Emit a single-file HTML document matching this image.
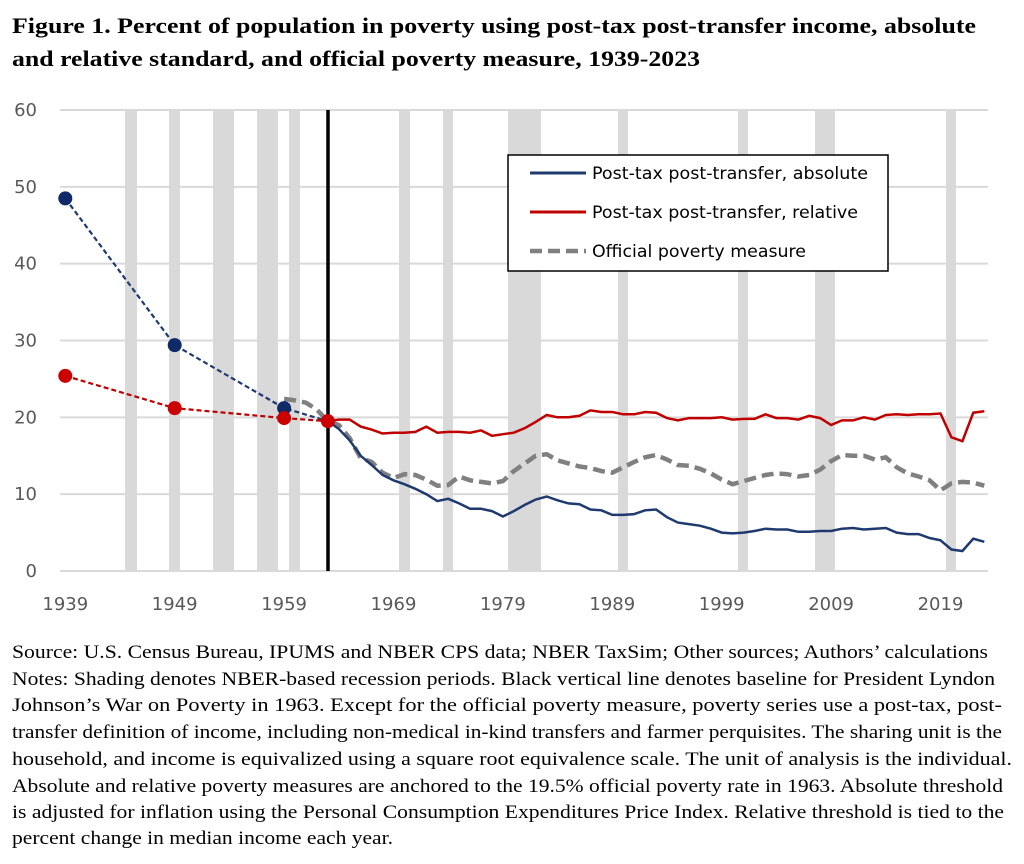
<!DOCTYPE html>
<html><head><meta charset="utf-8"><style>
html,body{margin:0;padding:0;background:#fff;width:1024px;height:864px;overflow:hidden}
svg{display:block}
.t{font-family:"Liberation Serif",serif;font-weight:bold;font-size:22px;fill:#000}
.n{font-family:"Liberation Serif",serif;font-size:19px;fill:#000}
.ax{font-family:"DejaVu Sans","Liberation Sans",sans-serif;font-size:18px;fill:#595959}
.lg{font-family:"DejaVu Sans","Liberation Sans",sans-serif;font-size:17px;fill:#000}
</style></head><body>
<svg id="s" width="1024" height="864" xmlns="http://www.w3.org/2000/svg">
<text class="t" x="12" y="33" textLength="964" lengthAdjust="spacingAndGlyphs">Figure 1. Percent of population in poverty using post-tax post-transfer income, absolute</text>
<text class="t" x="12" y="66" textLength="688" lengthAdjust="spacingAndGlyphs">and relative standard, and official poverty measure, 1939-2023</text>
<g id="bars" fill="#d9d9d9"></g>
<g id="grid" stroke="#d9d9d9" stroke-width="2"></g>
<line x1="328" y1="110" x2="328" y2="571" stroke="#000" stroke-width="3.5"/>
<g id="ser"></g>
<rect x="508" y="155" width="380" height="116" fill="#fff" stroke="#000" stroke-width="1.5"/>
<line x1="530" y1="173" x2="586" y2="173" stroke="#1f3a6e" stroke-width="3"/>
<line x1="530" y1="212" x2="586" y2="212" stroke="#c00000" stroke-width="3"/>
<line x1="530" y1="251" x2="586" y2="251" stroke="#808080" stroke-width="4.5" stroke-dasharray="12,6"/>
<text class="lg" x="592" y="179" textLength="276" lengthAdjust="spacingAndGlyphs">Post-tax post-transfer, absolute</text>
<text class="lg" x="592" y="218" textLength="266" lengthAdjust="spacingAndGlyphs">Post-tax post-transfer, relative</text>
<text class="lg" x="592" y="257" textLength="214" lengthAdjust="spacingAndGlyphs">Official poverty measure</text>
<g id="lab"></g>
<text class="n" x="12" y="658" textLength="976" lengthAdjust="spacingAndGlyphs">Source: U.S. Census Bureau, IPUMS and NBER CPS data; NBER TaxSim; Other sources; Authors’ calculations</text>
<text class="n" x="12" y="685" textLength="983" lengthAdjust="spacingAndGlyphs">Notes: Shading denotes NBER-based recession periods. Black vertical line denotes baseline for President Lyndon</text>
<text class="n" x="12" y="711" textLength="990" lengthAdjust="spacingAndGlyphs">Johnson’s War on Poverty in 1963. Except for the official poverty measure, poverty series use a post-tax, post-</text>
<text class="n" x="12" y="738" textLength="990" lengthAdjust="spacingAndGlyphs">transfer definition of income, including non-medical in-kind transfers and farmer perquisites. The sharing unit is the</text>
<text class="n" x="12" y="765" textLength="1000" lengthAdjust="spacingAndGlyphs">household, and income is equivalized using a square root equivalence scale. The unit of analysis is the individual.</text>
<text class="n" x="12" y="792" textLength="991" lengthAdjust="spacingAndGlyphs">Absolute and relative poverty measures are anchored to the 19.5% official poverty rate in 1963. Absolute threshold</text>
<text class="n" x="12" y="818" textLength="992" lengthAdjust="spacingAndGlyphs">is adjusted for inflation using the Personal Consumption Expenditures Price Index. Relative threshold is tied to the</text>
<text class="n" x="12" y="844" textLength="381" lengthAdjust="spacingAndGlyphs">percent change in median income each year.</text>
</svg>
<script>
var NS="http://www.w3.org/2000/svg";
function el(p,t,a,txt){var e=document.createElementNS(NS,t);for(var k in a)e.setAttribute(k,a[k]);if(txt!=null)e.textContent=txt;document.getElementById(p).appendChild(e);return e;}
function X(y){return 65.3+(y-1939)*10.94;}
function Y(v){return 571-v*7.683;}
[[125,137],[169,180],[213,234],[257,278],[289,300],[399,410],[443,453],[508,541],[618,628],[738,748],[815,835],[946,956]].forEach(function(b){el("bars","rect",{x:b[0],y:110,width:b[1]-b[0],height:461});});
for(var i=0;i<=6;i++){var y=Y(i*10);el("grid","line",{x1:60,x2:988,y1:y,y2:y});el("lab","text",{class:"ax",x:37,y:y+6,"text-anchor":"end"},String(i*10));}
for(var yr=1939;yr<=2019;yr+=10){el("lab","text",{class:"ax",x:X(yr),y:610,"text-anchor":"middle"},String(yr));}
var blue=[19.5,18.5,17,15,13.8,12.5,11.8,11.3,10.7,10,9.1,9.4,8.8,8.1,8.1,7.8,7.1,7.8,8.6,9.3,9.7,9.2,8.8,8.7,8.0,7.9,7.3,7.3,7.4,7.9,8.0,7.0,6.3,6.1,5.9,5.5,5.0,4.9,5.0,5.2,5.5,5.4,5.4,5.1,5.1,5.2,5.2,5.5,5.6,5.4,5.5,5.6,5.0,4.8,4.8,4.3,4.0,2.8,2.6,4.2,3.8];
var red=[19.5,19.7,19.7,18.8,18.4,17.9,18.0,18.0,18.1,18.8,18.0,18.1,18.1,18.0,18.3,17.6,17.8,18.0,18.6,19.4,20.3,20.0,20.0,20.2,20.9,20.7,20.7,20.4,20.4,20.7,20.6,19.9,19.6,19.9,19.9,19.9,20.0,19.7,19.8,19.8,20.4,19.9,19.9,19.7,20.2,19.9,19.0,19.6,19.6,20.0,19.7,20.3,20.4,20.3,20.4,20.4,20.5,17.4,16.9,20.6,20.8];
var gray=[22.4,22.2,21.9,21.0,19.5,19.0,17.3,14.7,14.2,12.8,12.1,12.6,12.5,11.9,11.1,11.2,12.3,11.8,11.6,11.4,11.7,13.0,14.0,15.0,15.2,14.4,14.0,13.6,13.4,13.0,12.8,13.5,14.2,14.8,15.1,14.5,13.8,13.7,13.3,12.7,11.9,11.3,11.7,12.1,12.5,12.7,12.6,12.3,12.5,13.2,14.3,15.1,15.0,15.0,14.5,14.8,13.5,12.7,12.3,11.8,10.5,11.4,11.6,11.5,11.1];
function pts(arr,start){return arr.map(function(v,i){return X(start+i).toFixed(1)+","+Y(v).toFixed(1);}).join(" ");}
el("ser","polyline",{points:pts(gray,1959),fill:"none",stroke:"#808080","stroke-width":4.5,"stroke-dasharray":"12,6"});
el("ser","polyline",{points:[[1939,48.5],[1949,29.4],[1959,21.2],[1963,19.5]].map(function(p){return X(p[0])+","+Y(p[1]);}).join(" "),fill:"none",stroke:"#1f3a6e","stroke-width":2.2,"stroke-dasharray":"5,3"});
el("ser","polyline",{points:[[1939,25.4],[1949,21.2],[1959,19.9],[1963,19.5]].map(function(p){return X(p[0])+","+Y(p[1]);}).join(" "),fill:"none",stroke:"#c00000","stroke-width":2.2,"stroke-dasharray":"5,3"});
el("ser","polyline",{points:pts(red,1963),fill:"none",stroke:"#c00000","stroke-width":2.5});
el("ser","polyline",{points:pts(blue,1963),fill:"none",stroke:"#1f3a6e","stroke-width":2.5});
[[1939,48.5],[1949,29.4],[1959,21.2]].forEach(function(p){el("ser","circle",{cx:X(p[0]),cy:Y(p[1]),r:7,fill:"#0f2a66"});});
[[1939,25.4],[1949,21.2],[1959,19.9],[1963,19.5]].forEach(function(p){el("ser","circle",{cx:X(p[0]),cy:Y(p[1]),r:7,fill:"#cc0000"});});
</script>
</body></html>
